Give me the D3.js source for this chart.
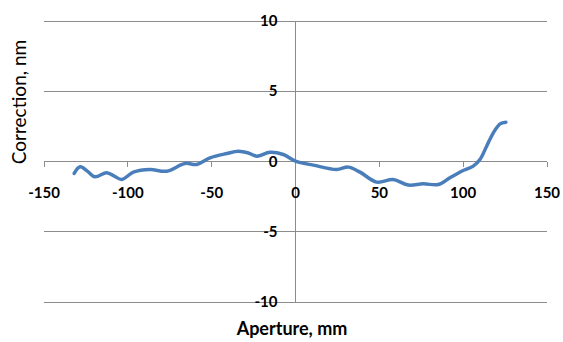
<!DOCTYPE html>
<html>
<head>
<meta charset="utf-8">
<script src="https://cdn.jsdelivr.net/npm/d3@7"></script>
<style>
  body { margin: 0; background: #fff; }
  svg text { font-family: Lato, "Open Sans", sans-serif; fill: #000; }
</style>
</head>
<body>
<div id="chart"></div>
<script>
// aperture (mm) and correction (nm)
const aperture = [-132, -128.5, -124, -119.6, -112.6, -108, -103.6, -96.7, -86.8, -76.8, -65.9, -58.9, -51, -41, -34.1, -28, -23.1, -15.2, -7.3, 0,
  10.6, 24.5, 31.5, 38.5, 48.4, 58.3, 67.3, 76.2, 85.2, 92.1, 99.1, 106, 110, 114, 118, 122, 125.5];
const correction = [-0.85, -0.38, -0.7, -1.09, -0.8, -1.05, -1.28, -0.76, -0.57, -0.69, -0.14, -0.21, 0.26, 0.57, 0.73, 0.6, 0.38, 0.66, 0.5, 0.02,
  -0.26, -0.57, -0.4, -0.76, -1.47, -1.28, -1.68, -1.59, -1.64, -1.16, -0.69, -0.33, 0.14, 1.09, 2.04, 2.68, 2.8];
const xTicks = [-150, -100, -50, 0, 50, 100, 150];
const yTicks = [-10, -5, 0, 5, 10];

const W = 563, H = 342;
const svg = d3.select("#chart").append("svg").attr("width", W).attr("height", H);

const x = d3.scaleLinear().domain([-150, 150]).range([44, 547]);
const y = d3.scaleLinear().domain([-10, 10]).range([302, 21]);

// horizontal gridlines
svg.append("g").selectAll("line").data(yTicks).join("line")
  .attr("x1", x(-150)).attr("x2", x(150))
  .attr("y1", d => y(d)).attr("y2", d => y(d))
  .attr("stroke", "#8c8c8c").attr("stroke-width", 1)
  .attr("shape-rendering", "crispEdges");

// vertical axis through 0
svg.append("line")
  .attr("x1", x(0)).attr("x2", x(0)).attr("y1", y(10)).attr("y2", y(-10))
  .attr("stroke", "#8c8c8c").attr("shape-rendering", "crispEdges");

// x tick marks below the zero line
svg.append("g").selectAll("line").data(xTicks).join("line")
  .attr("x1", d => x(d)).attr("x2", d => x(d))
  .attr("y1", y(0)).attr("y2", y(0) + 5)
  .attr("stroke", "#8c8c8c").attr("shape-rendering", "crispEdges");

// x tick labels
svg.append("g").selectAll("text").data(xTicks).join("text")
  .attr("x", d => x(d)).attr("y", y(0) + 36)
  .attr("text-anchor", "middle")
  .style("font-size", "15px").style("font-weight", 700)
  .text(d => d);

// y tick labels
svg.append("g").selectAll("text").data(yTicks).join("text")
  .attr("x", x(0) - 18).attr("y", d => y(d) + 5)
  .attr("text-anchor", "end")
  .style("font-size", "15px").style("font-weight", 700)
  .text(d => d);

// the curve
const line = d3.line()
  .x((d, i) => x(aperture[i]))
  .y(d => y(d))
  .curve(d3.curveCatmullRom);
svg.append("path")
  .datum(correction)
  .attr("d", line)
  .attr("fill", "none")
  .attr("stroke", "#4a7ebb")
  .attr("stroke-width", 3.5)
  .attr("stroke-linecap", "round");

// axis titles
svg.append("text")
  .attr("x", 292).attr("y", 335)
  .attr("text-anchor", "middle")
  .style("font-size", "18px").style("font-weight", 700)
  .text("Aperture, mm");
svg.append("text")
  .attr("transform", "translate(26,102) rotate(-90)")
  .attr("text-anchor", "middle")
  .style("font-size", "19px")
  .text("Correction, nm");
</script>
</body>
</html>
